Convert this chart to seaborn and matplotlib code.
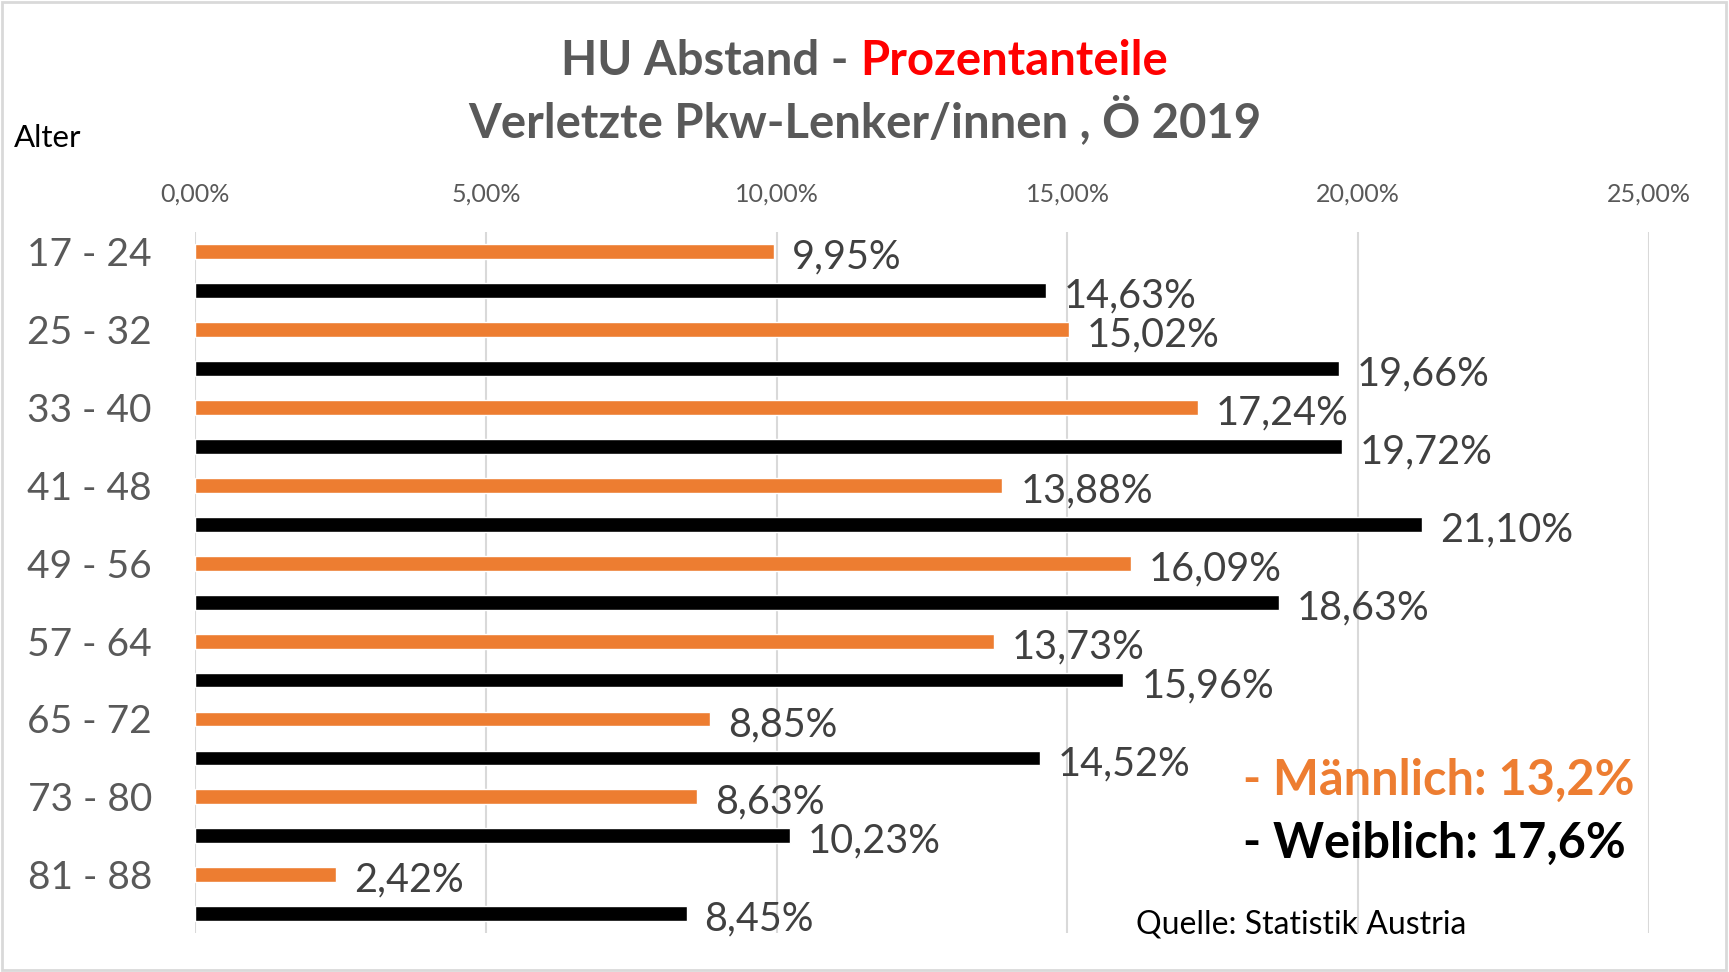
import numpy as np
import pandas as pd
import seaborn as sns
import matplotlib.pyplot as plt
from matplotlib.ticker import FuncFormatter
from matplotlib.patches import Rectangle

altersgruppen = ["17 - 24", "25 - 32", "33 - 40", "41 - 48", "49 - 56",
                 "57 - 64", "65 - 72", "73 - 80", "81 - 88"]
maennlich = [9.95, 15.02, 17.24, 13.88, 16.09, 13.73, 8.85, 8.63, 2.42]
weiblich = [14.63, 19.66, 19.72, 21.10, 18.63, 15.96, 14.52, 10.23, 8.45]
x_ticks = [0, 5, 10, 15, 20, 25]

df = pd.DataFrame({
    "Alter": altersgruppen * 2,
    "Anteil": maennlich + weiblich,
    "Geschlecht": ["Männlich"] * len(maennlich) + ["Weiblich"] * len(weiblich),
})

sns.set_theme(style="white")
plt.rcParams["font.family"] = ["Lato", "DejaVu Sans"]

grau = "#595959"
orange = "#ED7D31"

fig = plt.figure(figsize=(17.29, 9.72), dpi=100)
ax = fig.add_axes([0.1128, 0.040, 0.841, 0.721])

sns.barplot(data=df, y="Alter", x="Anteil", hue="Geschlecht", orient="h",
            palette={"Männlich": orange, "Weiblich": "black"}, saturation=1,
            width=1.0, gap=0.62, legend=False, ax=ax)

ax.set_xlim(0, 25)
ax.set_ylim(len(altersgruppen) - 0.5, -0.5)
ax.set_xticks(x_ticks)
ax.xaxis.set_major_formatter(FuncFormatter(lambda v, p: f"{v:.2f}%".replace(".", ",")))
ax.xaxis.tick_top()
ax.tick_params(axis="x", length=0, pad=19, labelsize=18, labelcolor=grau)
ax.set_yticks(np.arange(len(altersgruppen)) - 0.25, altersgruppen)
ax.tick_params(axis="y", length=0, pad=31, labelsize=28, labelcolor=grau)
ax.set_xlabel("")
ax.set_ylabel("")
ax.grid(axis="x", color="#d9d9d9", linewidth=1.5)
ax.set_axisbelow(True)
for s in ax.spines.values():
    s.set_visible(False)

for cont in ax.containers:
    labels = ax.bar_label(cont, labels=[f"{v:.2f}%".replace(".", ",") for v in cont.datavalues],
                          padding=14, fontsize=28.5, color="#404040")
    for t in labels:
        t.xyann = (13, -4)

# Titel
t1 = fig.text(0.5, 0.937, "HU Abstand - ", ha="left", va="center",
              fontsize=34, fontweight="bold", color=grau)
t2 = fig.text(0.5, 0.937, "Prozentanteile", ha="left", va="center",
              fontsize=34, fontweight="bold", color="red")
fig.canvas.draw()
r = fig.canvas.get_renderer()
w1 = t1.get_window_extent(r).width
w2 = t2.get_window_extent(r).width
x0 = (fig.bbox.width - w1 - w2) / 2
t1.set_x(x0 / fig.bbox.width)
t2.set_x((x0 + w1) / fig.bbox.width)
fig.text(0.5, 0.876, "Verletzte Pkw-Lenker/innen , Ö 2019", ha="center", va="center",
         fontsize=34, fontweight="bold", color=grau)

fig.text(0.008, 0.858, "Alter", ha="left", va="center", fontsize=22.5, color="black")
fig.text(0.719, 0.197, "- Männlich: 13,2%", ha="left", va="center",
         fontsize=35, fontweight="bold", color=orange)
fig.text(0.719, 0.132, "- Weiblich: 17,6%", ha="left", va="center",
         fontsize=35, fontweight="bold", color="black")
fig.text(0.657, 0.049, "Quelle: Statistik Austria", ha="left", va="center",
         fontsize=23, color="black")

fig.patches.append(Rectangle((0.001, 0.002), 0.997, 0.996, transform=fig.transFigure,
                             fill=False, edgecolor="#d9d9d9", linewidth=2))

fig.savefig("out.png", dpi=100)
